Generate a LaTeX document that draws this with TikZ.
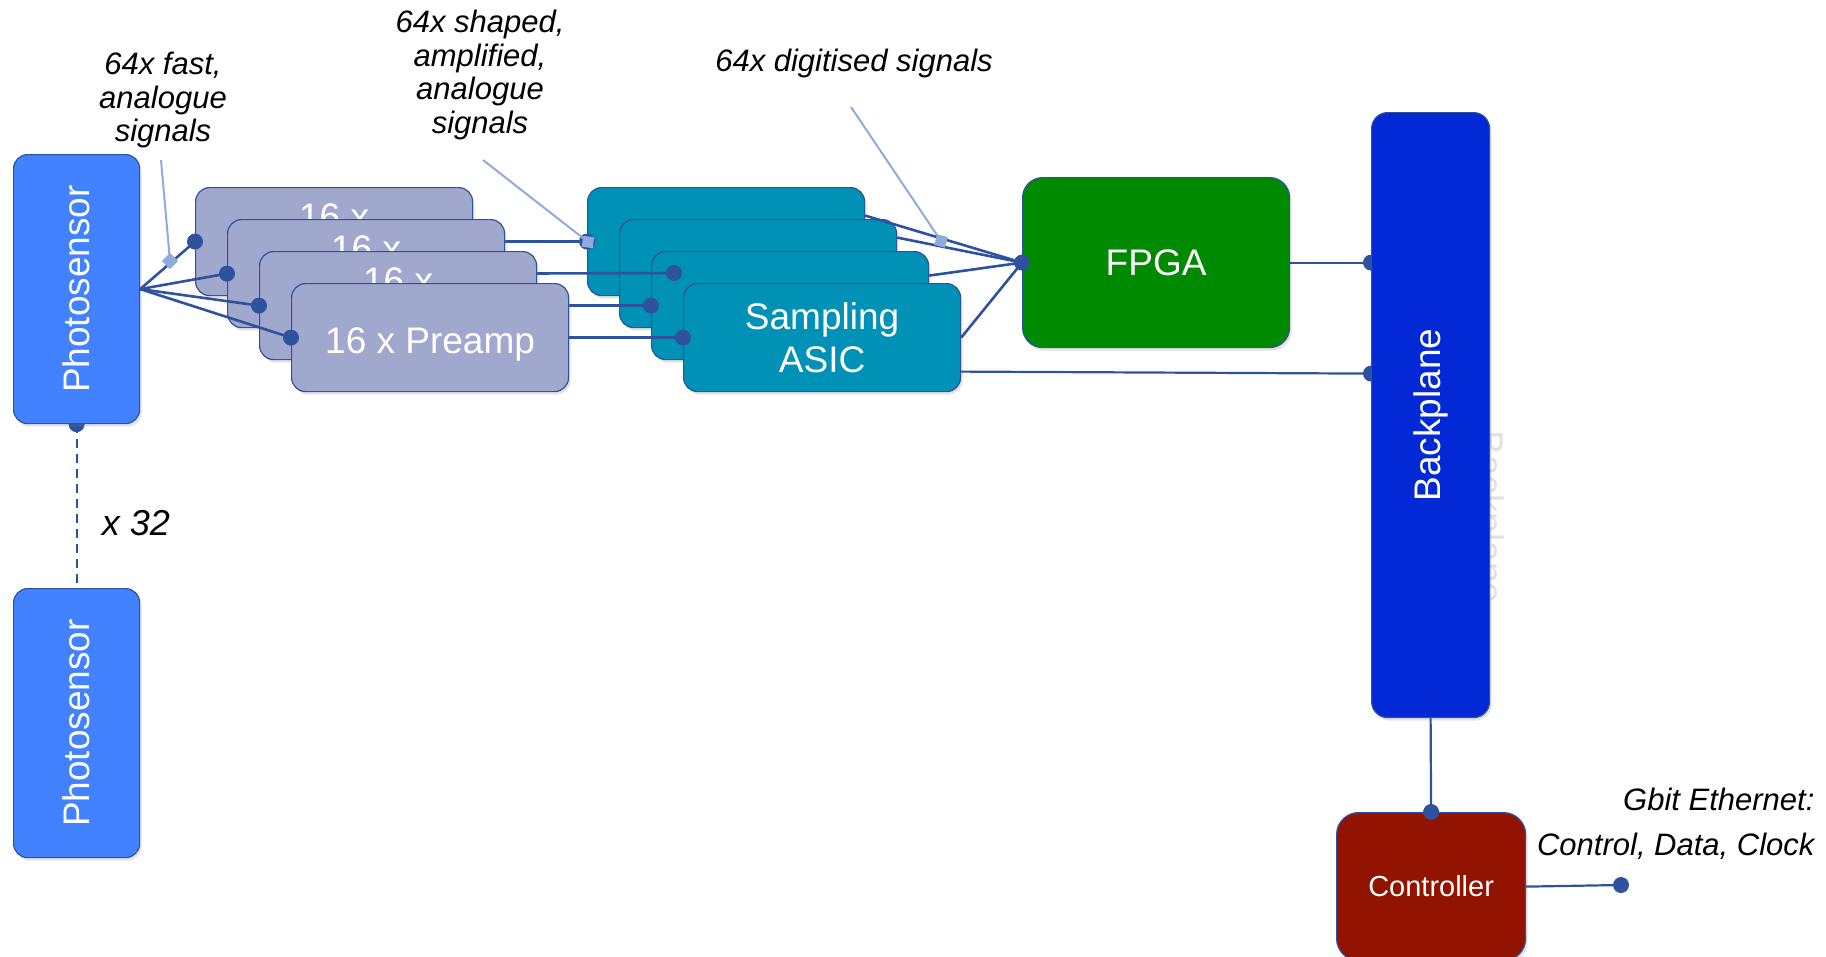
\documentclass[tikz,border=0pt]{standalone}
\usepackage{fontspec}
\setmainfont{Liberation Sans}
\usetikzlibrary{shadows}
\pgfdeclarelayer{bg}
\pgfsetlayers{bg,main}
\definecolor{conncol}{RGB}{47,82,158}
\definecolor{ptrcol}{RGB}{143,170,220}
\definecolor{photocol}{RGB}{66,129,255}
\definecolor{precol}{RGB}{160,168,205}
\definecolor{asiccol}{RGB}{0,145,183}
\definecolor{fpgacol}{RGB}{0,138,0}
\definecolor{bpcol}{RGB}{3,40,214}
\definecolor{ctlcol}{RGB}{146,19,0}
\definecolor{ghostcol}{RGB}{224,224,224}
\begin{document}
\begin{tikzpicture}[x=1pt,y=-1pt,
  box/.style={draw=conncol, line width=1.2pt, rounded corners=14pt, inner sep=0pt,
    anchor=north west, text=white, align=center,
    font=\fontsize{37}{43}\selectfont,
    drop shadow={shadow xshift=2pt, shadow yshift=-3pt, opacity=0.22}},
  stack/.style={box, minimum width=277pt, minimum height=108pt},
  pre/.style={stack, fill=precol},
  asic/.style={stack, fill=asiccol},
  photo/.style={box, fill=photocol, minimum width=126pt, minimum height=269pt},
  vtext/.style={rotate=90, text=white, font=\fontsize{37}{43}\selectfont},
  conn/.style={draw=conncol, line width=2.6pt},
  ptr/.style={draw=ptrcol, line width=2pt},
  dot/.style={circle, fill=conncol, inner sep=0pt, minimum size=16pt},
  pmark/.style={fill=ptrcol, inner sep=0pt, minimum size=11pt},
  lab/.style={font=\fontsize{31}{33.5}\selectfont\itshape, align=center}
]
\useasboundingbox (0,0) rectangle (1826,956);
\clip (0,0) rectangle (1826,956);

% photosensors
\node[photo] (ps1) at (13,154) {};
\node[vtext] (ps1t) at (ps1.center) {Photosensor};
\node[photo] (ps2) at (13,588) {};
\node[vtext] (ps2t) at (ps2.center) {Photosensor};
\begin{pgfonlayer}{bg}
  \node[dot] (ps1d) at (ps1.south) {};
\end{pgfonlayer}
\draw[conn, line width=2pt, dash pattern=on 9pt off 6pt] (ps1.south) -- (ps2.north);
\node[lab, font=\fontsize{36}{40}\selectfont\itshape] (x32) at (136,523) {x 32};

% sampling ASICs
\node[asic] (a1) at (587,187) {};
\node[asic] (a2) at (619,219) {};
\node[asic] (a3) at (651,251) {};
\node[asic] (a4) at (683,283) {Sampling\\ASIC};

% preamps with their outputs
\node[pre] (p1) at (195,187) {16 x\\\phantom{Preamp}};
\draw[conn] (p1.east) -- (a1.west);
\node[pre] (p2) at (227,219) {16 x\\\phantom{Preamp}};
\coordinate (d2) at (674,273);
\draw[conn] (p2.east) -- (d2);
\node[pre] (p3) at (259,251) {16 x\\\phantom{Preamp}};
\draw[conn] (p3.east) -- (a3.west);
\node[pre, text height=36pt, text depth=4pt] (p4) at (291,283) {16 x Preamp};
\draw[conn] (p4.east) -- (a4.west);

% fan from photosensor
\foreach \p in {p1,p2,p3,p4}{
  \draw[conn] (ps1.east) -- (\p.west);
  \node[dot] at (\p.west) {};
}
\node[dot] (a1d) at (a1.west) {};
\node[dot] (d2d) at (d2) {};
\node[dot] (a3d) at (a3.west) {};
\node[dot] (a4d) at (a4.west) {};

% FPGA
\node[box, fill=fpgacol, minimum width=267pt, minimum height=170pt, rounded corners=20pt] (fp) at (1022,177) {FPGA};
\draw[conn] ([yshift=26pt]a1.east) -- (fp.west);
\draw[conn] ([yshift=36pt]a2.east) -- (fp.west);
\draw[conn] ([yshift=30pt]a3.east) -- (fp.west);
\draw[conn] (a4.east) -- (fp.west);
\node[dot] (fpd) at (fp.west) {};

% Backplane
\begin{pgfonlayer}{bg}
  \node[rotate=-90, anchor=base, text=ghostcol, font=\fontsize{37}{43}\selectfont] (ghost) at (1477,517) {Backplane};
\end{pgfonlayer}
\node[box, fill=bpcol, minimum width=118pt, minimum height=605pt, rounded corners=16pt] (bp) at (1371,112) {};
\node[vtext] (bpt) at (bp.center) {Backplane};
\coordinate (bpin1) at ([yshift=152.5pt]bp.west);
\coordinate (bpin2) at ([yshift=41.5pt]bp.west);
\draw[conn, line width=2.2pt] (fp.east) -- (bpin1);
\draw[conn, line width=2.2pt] ([yshift=-34pt]a4.east) -- (bpin2);
\begin{pgfonlayer}{bg}
  \node[dot] (bpd1) at (bpin1) {};
  \node[dot] (bpd2) at (bpin2) {};
\end{pgfonlayer}

% Controller
\node[box, fill=ctlcol, minimum width=189pt, minimum height=148pt, rounded corners=22pt,
  font=\fontsize{29}{34}\selectfont] (ctl) at (1336,812) {Controller};
\draw[conn, line width=2.2pt] (bp.south) -- (ctl.north);
\node[dot] (ctld) at (ctl.north) {};
\coordinate (eth) at (1621,885);
\draw[conn, line width=2.2pt] (ctl.east) -- (eth);
\node[dot] (ethd) at (eth) {};
\node[lab, anchor=base east] (eth1) at (1818,810) {Gbit Ethernet:};
\node[lab, anchor=base east] (eth2) at (1818,855) {Control, Data, Clock};

% annotations
\node[lab] (l1) at (163,100) {64x fast,\\analogue\\signals};
\coordinate (l1p) at (161,160);
\node[pmark, rotate=45] (m1) at (170,261) {};
\draw[ptr] (l1p) -- (m1.center);
\node[pmark, rotate=45] at (170,261) {};

\node[lab] (l2) at (480,75) {64x shaped,\\amplified,\\analogue\\signals};
\coordinate (l2p) at (483,160);
\draw[ptr] (l2p) -- (588,242) coordinate (m2c);
\node[pmark, rotate=-8] (m2) at (m2c) {};

\node[lab] (l3) at (854,63) {64x digitised signals};
\coordinate (l3p) at (851,107);
\draw[ptr] (l3p) -- (941,241) coordinate (m3c);
\node[pmark, rotate=-15] (m3) at (m3c) {};
\end{tikzpicture}
\end{document}
